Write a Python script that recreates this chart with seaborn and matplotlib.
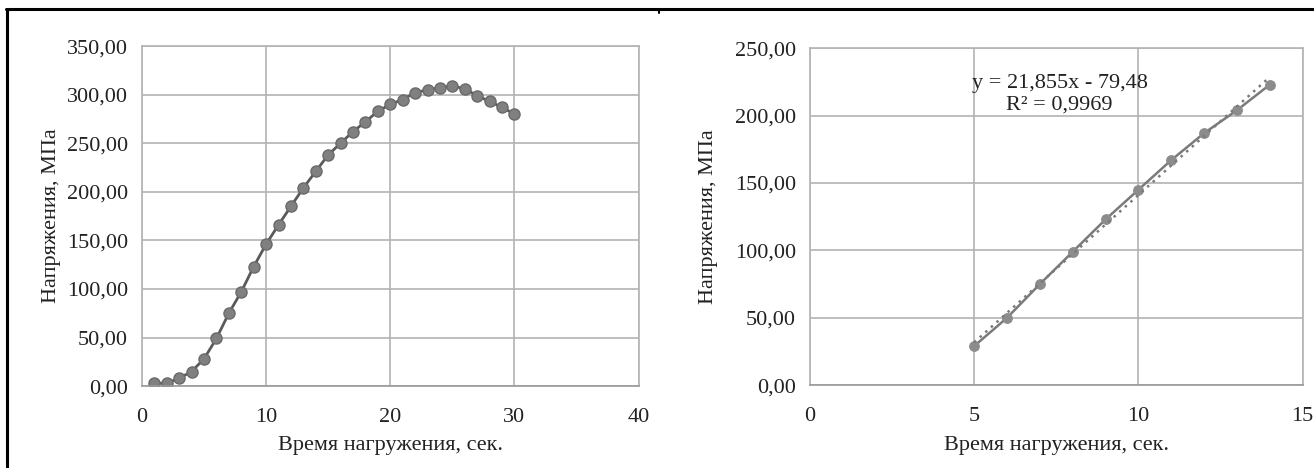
import matplotlib
matplotlib.use("Agg")
import matplotlib.pyplot as plt
from matplotlib.lines import Line2D
import seaborn as sns

# Data
time_full = list(range(1, 31))
stress_full = [3, 3, 8, 15, 28, 49, 75, 97, 123, 146,
               166, 185, 204, 221, 238, 250, 262, 272, 283, 290,
               295, 302, 305, 307, 309, 306, 299, 293, 287, 280]

time_lin = list(range(5, 15))
stress_lin = [29, 50, 75, 99, 123, 145, 167, 187, 204, 223]

fit_text = "y = 21,855x - 79,48\nR² = 0,9969"
xlabel = "Время нагружения, сек."
ylabel = "Напряжения, МПа"

sns.set_theme(style="whitegrid")
plt.rcParams['font.family'] = ['Liberation Serif', 'DejaVu Serif']

grid_c = "#b3b3b3"
fs = 16

fig = plt.figure(figsize=(13.14, 4.68), dpi=100)
ax1 = fig.add_axes([0.108, 0.175, 0.378, 0.7265])
ax2 = fig.add_axes([0.6164, 0.177, 0.375, 0.72])


def fmt(v, pos):
    return f"{v:.2f}".replace(".", ",")


def style(ax, xmax, ymax, xstep):
    ax.set_xlim(0, xmax)
    ax.set_ylim(0, ymax)
    ax.set_xticks(range(0, xmax + 1, xstep))
    ax.set_yticks(range(0, ymax + 1, 50))
    ax.yaxis.set_major_formatter(plt.FuncFormatter(fmt))
    ax.grid(True, color=grid_c, linewidth=1.2)
    for s in ax.spines.values():
        s.set_color(grid_c)
        s.set_linewidth(1.2)
    ax.spines['bottom'].set_color("#999999")
    ax.tick_params(axis='both', length=0, labelsize=fs, colors="#222222")
    ax.tick_params(axis='y', pad=10)
    ax.tick_params(axis='x', pad=16)
    ax.set_xlabel(xlabel, fontsize=fs, color="#222222")
    ax.set_ylabel(ylabel, fontsize=fs, color="#222222")


# Left chart: full loading curve
sns.lineplot(x=time_full, y=stress_full, ax=ax1, color="#5a5a5a", linewidth=2,
             marker="o", markersize=8, markerfacecolor="#808080",
             markeredgecolor="#6a6a6a", markeredgewidth=1)
style(ax1, 40, 350, 10)
ax1.yaxis.set_label_coords(-0.163, 0.5)
ax1.xaxis.set_label_coords(0.5, -0.147)

# Right chart: linear section with trendline
sns.lineplot(x=time_lin, y=stress_lin, ax=ax2, color="#7a7a7a", linewidth=1.8,
             marker="o", markersize=7, markerfacecolor="#8c8c8c",
             markeredgecolor="#8c8c8c")
sns.regplot(x=time_lin, y=stress_lin, ax=ax2, scatter=False, ci=None,
            line_kws=dict(color="#7a7a7a", linestyle=(0, (1, 2)), linewidth=1.8))
style(ax2, 15, 250, 5)
ax2.yaxis.set_label_coords(-0.187, 0.5)
ax2.xaxis.set_label_coords(0.5, -0.15)
ax2.text(7.6, 216, fit_text, ha="center", va="center", fontsize=fs,
         color="#222222", linespacing=1.2)

# Outer frame of the figure
fig.add_artist(Line2D([7 / 1314, 7 / 1314], [0, 1 - 8.5 / 468],
                      transform=fig.transFigure, color="black", linewidth=2.2))
fig.add_artist(Line2D([6 / 1314, 1], [1 - 8.5 / 468, 1 - 8.5 / 468],
                      transform=fig.transFigure, color="black", linewidth=2.2))
fig.add_artist(Line2D([659 / 1314, 659 / 1314], [1 - 8.5 / 468, 1 - 13 / 468],
                      transform=fig.transFigure, color="black", linewidth=1.5))

fig.savefig("out.png", dpi=100)
